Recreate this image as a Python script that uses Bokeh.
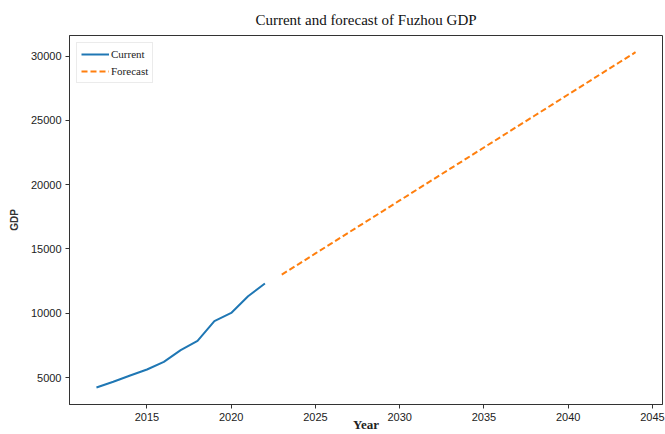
from bokeh.plotting import figure
from bokeh.models import Range1d, FixedTicker, Legend, LegendItem
from bokeh.embed import file_html
from bokeh.resources import INLINE

# Fuzhou GDP (100 million yuan): recorded values
years_current = [2012, 2013, 2014, 2015, 2016, 2017, 2018, 2019, 2020, 2021, 2022]
gdp_current = [4220, 4670, 5160, 5620, 6220, 7130, 7850, 9390, 10020, 11320, 12310]

# Forecast values
years_forecast = [2023, 2024, 2025, 2026, 2027, 2028, 2029, 2030, 2031, 2032, 2033,
                  2034, 2035, 2036, 2037, 2038, 2039, 2040, 2041, 2042, 2043, 2044]
gdp_forecast = [13000, 13820, 14650, 15470, 16300, 17120, 17940, 18770, 19590, 20420, 21240,
                22060, 22890, 23710, 24540, 25360, 26180, 27010, 27830, 28660, 29480, 30300]

x_ticks = [2015, 2020, 2025, 2030, 2035, 2040, 2045]
y_ticks = [5000, 10000, 15000, 20000, 25000, 30000]

SERIF = "Liberation Serif"
SANS = "Liberation Sans"

p = figure(width=665, height=434, output_backend="svg", toolbar_location=None,
           x_range=Range1d(2010.4, 2045.6), y_range=Range1d(2900, 31600),
           min_border_left=69, min_border_right=3, min_border_top=35, min_border_bottom=30)

p.title.text = "Current and forecast of Fuzhou GDP"
p.title.text_font = SERIF
p.title.text_font_size = "15px"
p.title.text_font_style = "normal"
p.title.align = "center"
p.title.text_color = "#111111"
p.title.standoff = 16

p.xgrid.visible = False
p.ygrid.visible = False
p.outline_line_color = "#333333"
p.outline_line_width = 1

for ax in (p.xaxis[0], p.yaxis[0]):
    ax.axis_line_color = "#333333"
    ax.major_tick_line_color = "#333333"
    ax.major_tick_out = 4
    ax.major_tick_in = 0
    ax.minor_tick_line_color = None
    ax.major_label_text_font = SANS
    ax.major_label_text_font_size = "11px"
    ax.major_label_text_color = "#222222"

p.xaxis.ticker = FixedTicker(ticks=x_ticks)
p.yaxis.ticker = FixedTicker(ticks=y_ticks)
p.xaxis.major_label_standoff = 4
p.yaxis.major_label_standoff = 4

# x-axis title tucked close under the tick labels (it sits between two of them)
p.xaxis.axis_label = "Year"
p.xaxis.axis_label_text_font = SERIF
p.xaxis.axis_label_text_font_size = "13px"
p.xaxis.axis_label_text_font_style = "bold"
p.xaxis.axis_label_standoff = -7
p.xaxis.axis_label_text_color = "#222222"

p.yaxis.axis_label = "GDP"
p.yaxis.axis_label_text_font = SANS
p.yaxis.axis_label_text_font_size = "10px"
p.yaxis.axis_label_text_font_style = "bold"
p.yaxis.axis_label_standoff = 8
p.yaxis.axis_label_text_color = "#333333"

r1 = p.line(years_current, gdp_current, line_color="#1f77b4", line_width=2)
r2 = p.line(years_forecast, gdp_forecast, line_color="#ff7f0e", line_width=2,
            line_dash="6 3")

legend = Legend(items=[LegendItem(label="Current", renderers=[r1]),
                       LegendItem(label="Forecast", renderers=[r2])],
                location="top_left")
legend.label_text_font = SERIF
legend.label_text_font_size = "11px"
legend.label_text_color = "#222222"
legend.glyph_width = 28
legend.glyph_height = 14
legend.label_height = 14
legend.label_standoff = 2
legend.spacing = 3
legend.padding = 4
legend.margin = 7
legend.border_line_color = "#d8d8d8"
legend.border_line_width = 1
legend.background_fill_alpha = 0.8
p.add_layout(legend)

open("out.html", "w").write(file_html(p, INLINE))
